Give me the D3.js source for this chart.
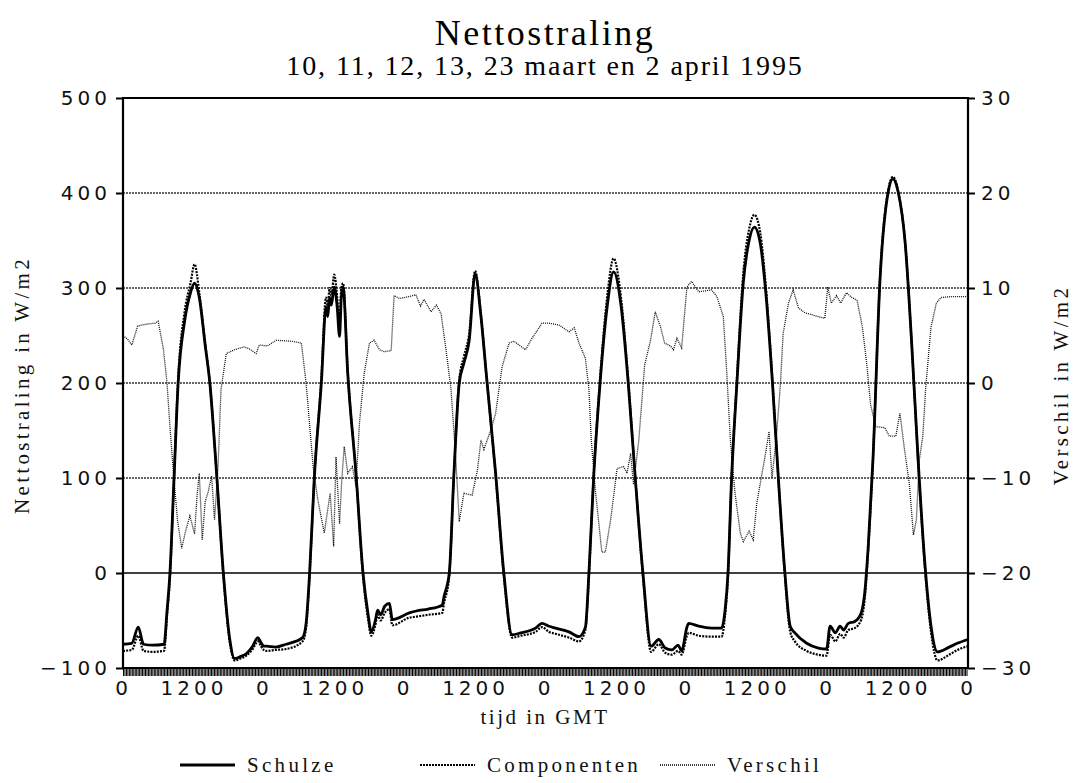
<!DOCTYPE html>
<html>
<head>
<meta charset="utf-8">
<script src="https://cdn.jsdelivr.net/npm/d3@7"></script>
<style>
  body { margin: 0; background: #fff; }
  .num { font-family: "DejaVu Sans", sans-serif; font-size: 20px; letter-spacing: 4px; fill: #111; }
  .lbl { font-family: "Liberation Serif", serif; font-size: 21px; letter-spacing: 3.3px; fill: #111; }
</style>
</head>
<body>
<div id="chart"></div>
<script>
// hours since 10 maart 0:00 (6 days, concatenated)
const schulzeT = [0,1.5,2.6,3.5,5,7,7.5,8,8.7,9.4,10.5,11.5,12.2,13,14,14.8,16,17.1,18.2,19,20,21,22,23,23.5,24,
  24.4,26,27.8,30.6,31.2,31.8,32.6,33.8,34.6,34.9,35.2,35.5,36,36.5,36.9,37.2,37.5,38.3,39.7,40.9,41.8,42.3,43,43.4,43.9,44.6,45.4,45.9,48.8,
  50,52,54.4,54.7,55.6,56.4,57.3,58.1,59,60,61,61.9,63.5,64.9,66.3,67.8,70.3,71.4,72.6,
  73.7,76,77.7,78.8,79.4,80.2,81.3,82.5,83.6,84.9,86.1,87.3,88.6,90,91.3,92.4,93.5,94.6,95.2,96.1,
  96.4,98.1,100.3,102,102.6,103.1,103.7,104.6,105.7,106.7,107.6,108.6,109.5,110.7,111.7,112.8,113.7,114.5,116.5,118.5,119.9,
  120.5,121.4,122.2,122.8,123.6,124.7,125.8,126.4,127,127.8,129,130.4,131.2,132.1,133.3,134.4,135.5,136.6,137.7,138.8,140.8,142.2,144];
const schulze = [-75,-74,-57,-75,-76,-75,-40,0,100,200,265,295,305,290,240,200,100,0,-70,-90,-88,-85,-78,-68,-73,-77,
  -77,-78,-75,-68,-53,0,100,200,280,270,290,282,301,280,249,290,301,210,105,0,-45,-62,-50,-39,-44,-35,-32,-49,-42,
  -40,-38,-34,-25,0,105,200,221,245,315,270,210,105,0,-65,-63,-58,-53,-56,
  -58,-62,-67,-57,0,100,200,280,317,280,200,100,0,-77,-70,-79,-81,-76,-82,-57,
  -53,-56,-58,-58,-39,0,98,198,305,350,364,347,298,198,98,0,-56,-63,-74,-79,-80,
  -56,-63,-56,-60,-53,-51,-42,-21,28,119,308,401,415,401,347,242,119,14,-56,-83,-78,-74,-70];
const componenten = [-82,-81,-66,-82,-83,-82,-45,-5,100,205,275,305,325,295,242,200,100,-2,-73,-92,-90,-87,-81,-72,-77,-81,
  -82,-81,-80,-72,-58,-3,100,205,290,280,300,292,314,290,262,300,305,212,105,-3,-50,-66,-55,-44,-50,-42,-38,-55,-47,
  -46,-44,-42,-32,-3,105,203,228,252,318,272,210,103,-3,-68,-66,-62,-57,-62,
  -64,-68,-72,-60,-3,102,205,290,331,288,203,100,-3,-83,-75,-84,-86,-82,-86,-66,
  -63,-66,-67,-67,-45,-3,98,202,315,362,377,358,305,200,98,-3,-62,-72,-82,-86,-87,
  -65,-72,-64,-68,-60,-58,-49,-27,25,119,310,403,417,402,347,242,117,10,-62,-92,-86,-81,-77];

const verschilT = [0,0.8,1.5,2.5,4,5.5,6,6.9,7.5,8,8.6,9.3,10,10.7,11.4,12.2,12.6,13,13.5,14,14.5,15.1,15.6,16.2,16.7,17.6,19,20.6,21.5,22.7,23.2,24.6,
  26.1,28.7,30.4,31.2,32.4,33.2,34.3,35.3,35.9,36.3,36.9,37.3,37.7,38.3,39.1,39.7,40.3,41.1,42,42.8,43.7,44.5,45.7,46.2,47.1,48.8,
  49.9,50.7,51.3,52.5,53.4,54.2,55,55.9,56.7,57.3,58.1,59.5,60.4,61,61.5,62.7,63.5,64.6,65.8,66.6,68.6,69.7,71.4,72.6,
  74.3,76,76.9,77.7,78.8,79.4,79.8,80.5,81.6,82.2,83.1,84.2,85.3,85.9,86.5,87,87.9,88.9,89.9,90.7,91.6,92.3,93.3,93.8,94.4,95.2,96.1,
  96.9,98.1,100.3,101.2,102.3,102.9,103.5,104.3,105.2,105.7,106.7,107.4,108,108.7,109.5,110.1,110.6,111.4,112,112.5,113.4,114.2,115.1,116.2,117.3,119.6,120.1,
  120.7,121.6,122.3,123.3,124.2,125.1,126,126.8,127.4,128.3,129.8,130.6,131.7,132.4,133.2,134,134.7,135.2,135.7,136.3,136.8,137.7,138.6,139.4,141.4,144];
const verschil = [5,4.6,4,6,6.2,6.3,6.5,3.5,0,-4.6,-9.5,-14.5,-17.4,-15.5,-14,-15.9,-12,-9.5,-16.5,-12.5,-11.5,-9.8,-14.4,-8.8,-0.7,3.1,3.5,3.8,3.6,3.1,4,3.9,
  4.5,4.4,4.2,0,-8.8,-12.3,-15.8,-11.6,-17.2,-7.8,-14.8,-10,-6.7,-9.5,-8.8,-10.9,-4.2,1,4.2,4.5,3.5,3.3,3.4,9.2,8.9,9.1,
  9.3,8.1,8.8,7.5,8.2,7.3,3.7,-0.7,-7.8,-14.6,-11.6,-11.8,-9.2,-6,-7,-4.9,-3.2,1.7,4.2,4.4,3.5,4.7,6.3,6.3,
  6.1,5.4,5.8,4.2,2.6,-0.7,-6,-11.3,-17.8,-17.8,-14.4,-9,-8.8,-9.5,-7.4,-10.7,-6,1.9,4.5,7.5,5.9,4.2,3.9,3.5,4.7,3.7,10.1,
  10.7,9.6,9.8,9.1,7,1,-6,-11.6,-15.8,-16.7,-15.6,-16.5,-12.7,-10.2,-7.4,-5.1,-10,-5.3,-0.4,5.2,8.4,9.8,7.9,7.4,7.2,6.8,10.1,
  8.4,9.2,8.4,9.5,9,8.7,5.9,1.7,-2.3,-4.6,-4.7,-5.6,-5.6,-3.2,-7.1,-10.6,-16,-14.4,-8.1,-5.6,-0.4,5.9,8.4,9,9.1,9.1];

const leftTicks = [-100, 0, 100, 200, 300, 400, 500];
const rightTicks = [-30, -20, -10, 0, 10, 20, 30];
const timeTicks = [0, 12, 24, 36, 48, 60, 72, 84, 96, 108, 120, 132, 144];
const timeLabels = ["0", "1200", "0", "1200", "0", "1200", "0", "1200", "0", "1200", "0", "1200", "0"];
const seriesNames = ["Schulze", "Componenten", "Verschil"];

const width = 1077, height = 783;
const plotLeft = 123, plotRight = 968, plotTop = 98, plotBottom = 668;

const svg = d3.select('#chart').append('svg')
    .attr('width', width)
    .attr('height', height)
    .style('background', '#fff');

const x = d3.scaleLinear().domain([0, 144]).range([plotLeft, plotRight]);
const y = d3.scaleLinear().domain([-100, 500]).range([plotBottom, plotTop]);
const yR = d3.scaleLinear().domain([-30, 30]).range([plotBottom, plotTop]);

const minus = d => d < 0 ? '\u2212' + Math.abs(d) : String(d);

// gridlines
svg.append('g').selectAll('line')
    .data(leftTicks.filter(d => d > -100 && d < 500))
    .enter().append('line')
    .attr('x1', plotLeft).attr('x2', plotRight)
    .attr('y1', d => y(d)).attr('y2', d => y(d))
    .style('stroke', d => d === 0 ? '#000' : '#333')
    .style('stroke-width', d => d === 0 ? 1.6 : 1.3)
    .style('stroke-dasharray', d => d === 0 ? null : '2,1');

// dense time ticks along the bottom
svg.append('g')
    .attr('transform', `translate(0,${plotBottom})`)
    .call(d3.axisBottom(x).tickValues(d3.range(0, 144, 0.25)).tickSize(8).tickFormat(''))
    .call(g => g.select('.domain').remove())
    .selectAll('line').style('stroke', '#000').style('stroke-width', 1);

// time labels
svg.append('g')
    .attr('transform', `translate(0,${plotBottom})`)
    .call(d3.axisBottom(x).tickValues(timeTicks).tickSize(0).tickPadding(13)
        .tickFormat((d, i) => timeLabels[i]))
    .call(g => g.select('.domain').remove())
    .selectAll('text').attr('class', 'num');

// left axis
svg.append('g')
    .attr('transform', `translate(${plotLeft},0)`)
    .call(d3.axisLeft(y).tickValues(leftTicks).tickSize(7).tickPadding(5).tickFormat(minus))
    .call(g => g.select('.domain').remove())
    .call(g => g.selectAll('line').style('stroke', '#000').style('stroke-width', 2))
    .selectAll('text').attr('class', 'num');

// right axis
svg.append('g')
    .attr('transform', `translate(${plotRight},0)`)
    .call(d3.axisRight(yR).tickValues(rightTicks).tickSize(7).tickPadding(6).tickFormat(minus))
    .call(g => g.select('.domain').remove())
    .call(g => g.selectAll('line').style('stroke', '#000').style('stroke-width', 2))
    .selectAll('text').attr('class', 'num');

// remove axis default font so the css class applies
svg.selectAll('g').attr('font-family', null).attr('font-size', null);

// frame
svg.append('path')
    .attr('d', `M${plotLeft},${plotBottom}V${plotTop}H${plotRight}V${plotBottom}H${plotLeft}`)
    .style('fill', 'none').style('stroke', '#000').style('stroke-width', 2.2);

// series
const lineL = d3.line().x(d => x(d[0])).y(d => y(d[1])).curve(d3.curveMonotoneX);
const lineR = d3.line().x(d => x(d[0])).y(d => yR(d[1]));

svg.append('path')
    .datum(verschilT.map((t, i) => [t, verschil[i]]))
    .attr('d', lineR)
    .style('fill', 'none').style('stroke', '#111').style('stroke-width', 1.3)
    .style('stroke-dasharray', '1,1');

svg.append('path')
    .datum(schulzeT.map((t, i) => [t, componenten[i]]))
    .attr('d', lineL)
    .style('fill', 'none').style('stroke', '#000').style('stroke-width', 2.2)
    .style('stroke-dasharray', '2,1.2');

svg.append('path')
    .datum(schulzeT.map((t, i) => [t, schulze[i]]))
    .attr('d', lineL)
    .style('fill', 'none').style('stroke', '#000').style('stroke-width', 2.8)
    .style('stroke-linejoin', 'round');

// titles
svg.append('text')
    .attr('x', 545).attr('y', 45)
    .attr('text-anchor', 'middle')
    .style('font-family', '"Liberation Serif", serif').style('font-size', '36px')
    .style('letter-spacing', '2.5px')
    .text('Nettostraling');
svg.append('text')
    .attr('x', 545).attr('y', 75)
    .attr('text-anchor', 'middle')
    .style('font-family', '"Liberation Serif", serif').style('font-size', '28px')
    .style('letter-spacing', '1.9px')
    .text('10, 11, 12, 13, 23 maart en 2 april 1995');

// axis titles
svg.append('text').attr('class', 'lbl')
    .attr('x', 545).attr('y', 724).attr('text-anchor', 'middle')
    .style('letter-spacing', '2.5px')
    .text('tijd in GMT');
svg.append('text').attr('class', 'lbl')
    .attr('transform', 'translate(29,385) rotate(-90)').attr('text-anchor', 'middle')
    .text('Nettostraling in W/m2');
svg.append('text').attr('class', 'lbl')
    .attr('transform', 'translate(1068,385) rotate(-90)').attr('text-anchor', 'middle')
    .text('Verschil in W/m2');

// legend
const legendStyle = [
    { x: 180, w: 2.8, dash: null },
    { x: 420, w: 2, dash: '2,1' },
    { x: 660, w: 1.3, dash: '1,1' }
];
const lg = svg.append('g').selectAll('g')
    .data(seriesNames)
    .enter().append('g')
    .attr('transform', (d, i) => `translate(${legendStyle[i].x},765)`);
lg.append('line')
    .attr('x1', 0).attr('x2', 55).attr('y1', 0).attr('y2', 0)
    .style('stroke', '#000')
    .style('stroke-width', (d, i) => legendStyle[i].w)
    .style('stroke-dasharray', (d, i) => legendStyle[i].dash);
lg.append('text').attr('class', 'lbl')
    .attr('x', 67).attr('y', 7)
    .text(d => d);
</script>
</body>
</html>
